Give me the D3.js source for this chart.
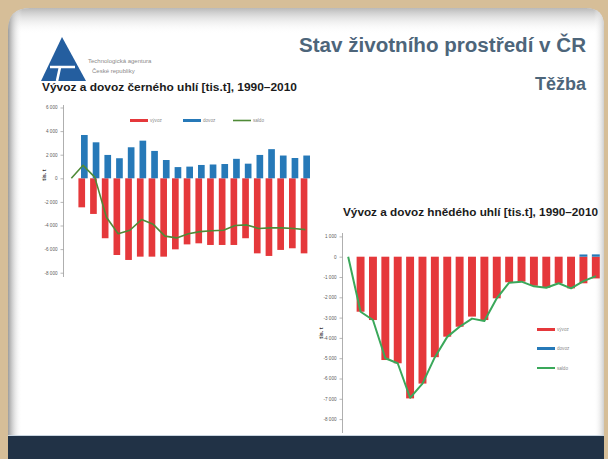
<!DOCTYPE html>
<html>
<head>
<meta charset="utf-8">
<script src="https://cdn.jsdelivr.net/npm/d3@7"></script>
<style>
  html, body { margin: 0; padding: 0; background: #d6be98; }
  svg { display: block; font-family: "Liberation Sans", Arial, sans-serif; }
</style>
</head>
<body>
<svg id="slide" width="608" height="459"></svg>
<script>
// ---- data (tis. t) ----
const years = ["1990","1991","1992","1993","1994","1995","1996","1997","1998","1999","2000",
               "2001","2002","2003","2004","2005","2006","2007","2008","2009","2010"];

// černé uhlí
const blackExport  = [0, -2460, -3020, -5080, -6500, -6920, -6640, -6640, -6640, -6020, -5600,
                      -5510, -5650, -5650, -5650, -5080, -6360, -6580, -6070, -5930, -6360];
const blackImport  = [0, 3670, 3050, 1980, 1700, 2630, 3190, 2320, 1550, 950, 990,
                      1130, 1170, 1210, 1650, 1240, 1980, 2470, 1930, 1720, 1930];
const blackBalance = [0, 1100, 100, -3300, -4700, -4400, -3500, -3900, -4900, -5050, -4700,
                      -4520, -4450, -4400, -4000, -3950, -4250, -4200, -4200, -4250, -4350];

// hnědé uhlí
const brownExport  = [0, -2710, -3120, -5090, -5250, -6980, -6250, -4950, -3940, -3450, -2950,
                      -3120, -2050, -1260, -1230, -1430, -1530, -1310, -1560, -1310, -1070];
const brownImport  = [0, 0, 0, 0, 0, 0, 0, 0, 0, 0, 0,
                      0, 0, 0, 0, 0, 0, 0, 0, 110, 115];
const brownBalance = [0, -2710, -3120, -5000, -5250, -6950, -6250, -4950, -3950, -3450, -3050,
                      -3170, -2050, -1280, -1230, -1460, -1530, -1310, -1560, -1200, -960];

const seriesNames = ["vývoz", "dovoz", "saldo"];

const blackTicks      = [6000, 4000, 2000, 0, -2000, -4000, -6000, -8000];
const blackTickLabels = ["6 000", "4 000", "2 000", "0", "-2 000", "-4 000", "-6 000", "-8 000"];
const brownTicks      = [1000, 0, -1000, -2000, -3000, -4000, -5000, -6000, -7000, -8000];
const brownTickLabels = ["1 000", "0", "-1 000", "-2 000", "-3 000", "-4 000", "-5 000", "-6 000", "-7 000", "-8 000"];

// ---- colours ----
const RED = "#e5383b", BLUE = "#2679b8";

const svg = d3.select("#slide");
const defs = svg.append("defs");

// ---- slide frame ----
svg.append("rect").attr("width", 608).attr("height", 459).attr("fill", "#d6be98");

const panelPath = "M8,30 Q8,8 30,8 L586,8 Q604,8 604,26 L604,480 L8,480 Z";
defs.append("clipPath").attr("id", "panelClip").append("path").attr("d", panelPath);

const gTop = defs.append("linearGradient").attr("id", "gTop").attr("x1", 0).attr("y1", 0).attr("x2", 0).attr("y2", 1);
gTop.append("stop").attr("offset", 0).attr("stop-color", "#b9b9b9");
gTop.append("stop").attr("offset", 1).attr("stop-color", "#ffffff").attr("stop-opacity", 0);
const gLeft = defs.append("linearGradient").attr("id", "gLeft").attr("x1", 0).attr("y1", 0).attr("x2", 1).attr("y2", 0);
gLeft.append("stop").attr("offset", 0).attr("stop-color", "#9c9c9c");
gLeft.append("stop").attr("offset", 1).attr("stop-color", "#ffffff").attr("stop-opacity", 0);
const gRight = defs.append("linearGradient").attr("id", "gRight").attr("x1", 1).attr("y1", 0).attr("x2", 0).attr("y2", 0);
gRight.append("stop").attr("offset", 0).attr("stop-color", "#cfcfcf");
gRight.append("stop").attr("offset", 1).attr("stop-color", "#ffffff").attr("stop-opacity", 0);

const panel = svg.append("g").attr("clip-path", "url(#panelClip)");
panel.append("path").attr("d", panelPath).attr("fill", "#ffffff");
panel.append("rect").attr("x", 8).attr("y", 8).attr("width", 596).attr("height", 26).attr("fill", "url(#gTop)");
panel.append("rect").attr("x", 8).attr("y", 8).attr("width", 14).attr("height", 472).attr("fill", "url(#gLeft)");
panel.append("rect").attr("x", 594).attr("y", 8).attr("width", 10).attr("height", 472).attr("fill", "url(#gRight)");
panel.append("rect").attr("x", 8).attr("y", 436).attr("width", 600).attr("height", 44).attr("fill", "#213246");
panel.append("line").attr("x1", 8).attr("x2", 608).attr("y1", 435.5).attr("y2", 435.5)
  .attr("stroke", "#c9d5e0").attr("stroke-width", 1);

// ---- logo ----
const logo = svg.append("g");
logo.append("path").attr("d", "M62,37 L86,81 L41,81 Z").attr("fill", "#245e9f");
logo.append("path").attr("d", "M50,67 L75,67 M60,67 L57,81").attr("stroke", "#ffffff").attr("stroke-width", 2.6).attr("fill", "none");
logo.append("text").attr("x", 88).attr("y", 63).attr("font-size", 6).attr("fill", "#8a8a8a").text("Technologická agentura");
logo.append("text").attr("x", 92).attr("y", 73).attr("font-size", 6).attr("fill", "#8a8a8a").text("České republiky");

// ---- slide heading ----
svg.append("text").attr("x", 586).attr("y", 52).attr("text-anchor", "end")
  .attr("font-size", 20).attr("font-weight", "bold").attr("fill", "#4d657a")
  .attr("textLength", 287).attr("lengthAdjust", "spacingAndGlyphs")
  .text("Stav životního prostředí v ČR");
svg.append("text").attr("x", 586).attr("y", 90).attr("text-anchor", "end")
  .attr("font-size", 18).attr("font-weight", "bold").attr("fill", "#4d657a")
  .text("Těžba");

// ---- one import/export chart ----
function drawChart(cfg) {
  const g = svg.append("g");
  const x = d3.scaleBand().domain(years).range(cfg.xRange)
    .paddingInner(cfg.padInner).paddingOuter(cfg.padInner / 2);
  const y = d3.scaleLinear().domain(cfg.yDomain).range(cfg.yRange);
  const bw = x.bandwidth();
  const cx = d => x(d) + bw / 2;

  // title
  g.append("text").attr("x", cfg.titlePos[0]).attr("y", cfg.titlePos[1])
    .attr("font-size", 10.6).attr("font-weight", "bold").attr("fill", "#1b1b1b")
    .attr("textLength", cfg.titleWidth).attr("lengthAdjust", "spacingAndGlyphs")
    .text(cfg.title);

  // bars
  g.selectAll(".exp").data(years).join("rect")
    .attr("x", d => x(d) - cfg.shift)
    .attr("width", bw)
    .attr("y", (d, i) => y(0))
    .attr("height", (d, i) => y(cfg.exp[i]) - y(0))
    .attr("fill", RED);
  g.selectAll(".imp").data(years).join("rect")
    .attr("x", d => x(d) + cfg.shift)
    .attr("width", bw)
    .attr("y", (d, i) => y(cfg.imp[i]))
    .attr("height", (d, i) => y(0) - y(cfg.imp[i]))
    .attr("fill", BLUE);

  // balance line
  const line = d3.line().x((d, i) => cx(years[i])).y(d => y(d));
  g.append("path").datum(cfg.bal).attr("d", line).attr("fill", "none")
    .attr("stroke", cfg.lineColor).attr("stroke-width", cfg.lineWidth)
    .attr("stroke-linejoin", "round");

  // y axis
  const axis = d3.axisLeft(y).tickValues(cfg.ticks)
    .tickFormat((d, i) => cfg.tickLabels[i]).tickSize(3).tickPadding(3);
  const ag = g.append("g").attr("transform", `translate(${cfg.axisX},0)`).call(axis);
  ag.select(".domain").remove();
  ag.selectAll(".tick line").attr("stroke", "#9a9a9a").attr("stroke-width", 0.7);
  ag.selectAll(".tick text").attr("font-size", 4.6).attr("fill", "#5a5a5a")
    .attr("font-family", "'Liberation Sans', Arial, sans-serif");
  g.append("line").attr("x1", cfg.axisX).attr("x2", cfg.axisX)
    .attr("y1", cfg.axisSpan[0]).attr("y2", cfg.axisSpan[1])
    .attr("stroke", "#9a9a9a").attr("stroke-width", 0.8);

  // unit label
  g.append("text").attr("transform", `translate(${cfg.unitPos[0]},${cfg.unitPos[1]}) rotate(-90)`)
    .attr("text-anchor", "middle").attr("font-size", 5.5).attr("font-weight", "bold")
    .attr("fill", "#333").text("tis. t");

  // legend
  const colors = [RED, BLUE, cfg.lineColor];
  const widths = [3, 3, cfg.lineWidth];
  cfg.legend.forEach((p, i) => {
    g.append("line").attr("x1", p[0]).attr("x2", p[0] + 18).attr("y1", p[1]).attr("y2", p[1])
      .attr("stroke", colors[i]).attr("stroke-width", widths[i]);
    g.append("text").attr("x", p[0] + 20).attr("y", p[1] + 1.6)
      .attr("font-size", 4.6).attr("fill", "#8a8a8a").text(seriesNames[i]);
  });
}

drawChart({
  title: "Vývoz a dovoz černého uhlí [tis.t], 1990–2010",
  titlePos: [42, 91], titleWidth: 255,
  exp: blackExport, imp: blackImport, bal: blackBalance,
  xRange: [65.5, 311.2], padInner: 0.43, shift: 1.3,
  yDomain: [-8000, 6000], yRange: [272.7, 107.5],
  ticks: blackTicks, tickLabels: blackTickLabels,
  axisX: 63.5, axisSpan: [105, 277],
  unitPos: [46, 175],
  lineColor: "#4f8a37", lineWidth: 1.6,
  legend: [[130, 120.5], [183, 120.5], [233, 120.5]]
});

drawChart({
  title: "Vývoz a dovoz hnědého uhlí [tis.t], 1990–2010",
  titlePos: [343, 216], titleWidth: 255,
  exp: brownExport, imp: brownImport, bal: brownBalance,
  xRange: [342, 602], padInner: 0.36, shift: 0,
  yDomain: [-8000, 1000], yRange: [419.1, 236.4],
  ticks: brownTicks, tickLabels: brownTickLabels,
  axisX: 342.5, axisSpan: [233, 433],
  unitPos: [323, 333],
  lineColor: "#3aa85a", lineWidth: 2,
  legend: [[537, 329.5], [537, 348.5], [537, 368]]
});
</script>
</body>
</html>
